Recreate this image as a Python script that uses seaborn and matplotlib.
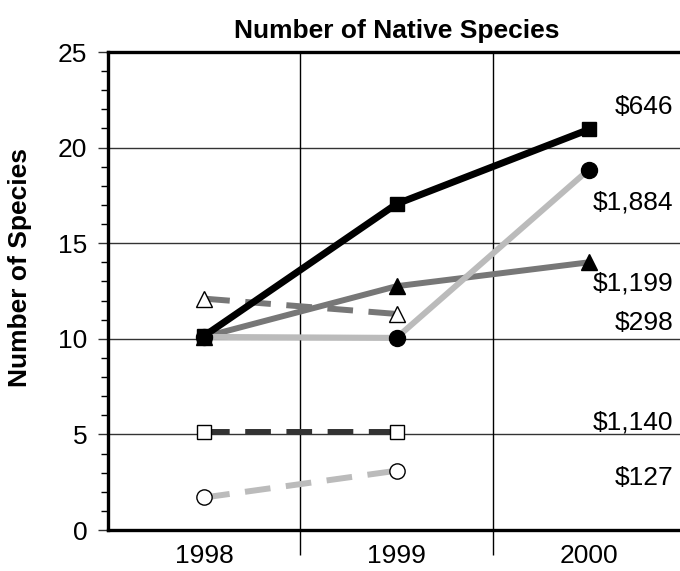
import matplotlib
matplotlib.use("Agg")
import matplotlib.pyplot as plt
from matplotlib.ticker import MultipleLocator, FixedLocator
import seaborn as sns
import pandas as pd

# ---- data ----
years = [1998, 1999, 2000]
years_short = [1998, 1999]
sq_solid = [10.15, 17.05, 20.95]        # $646
circ_solid = [10.1, 10.05, 18.85]       # $1,884
tri_solid = [10.1, 12.75, 14.0]         # $1,199
tri_open = [12.1, 11.3]                 # $298
sq_open = [5.15, 5.15]                  # $1,140
circ_open = [1.7, 3.1]                  # $127
cost_labels = ["$646", "$1,884", "$1,199", "$298", "$1,140", "$127"]
cost_label_y = [22.1, 17.15, 12.9, 10.85, 5.6, 2.7]
yticks = [0, 5, 10, 15, 20, 25]

sns.set_style("white")
plt.rcParams["font.family"] = ["Liberation Sans", "DejaVu Sans"]
plt.rcParams["text.color"] = "black"
plt.rcParams["axes.labelcolor"] = "black"
plt.rcParams["xtick.color"] = "black"
plt.rcParams["ytick.color"] = "black"

fig = plt.figure(figsize=(6.8, 5.71), dpi=100)
ax = fig.add_axes([108 / 680, 1 - 530 / 571, 577 / 680, 478 / 571])

def draw(xs, ys, color, ls, marker, mfc, lw=4.3, ms=11):
    df = pd.DataFrame({"year": xs, "value": ys})
    sns.lineplot(data=df, x="year", y="value", ax=ax, color=color, linewidth=lw,
                 linestyle=ls, marker=marker, markersize=ms, markerfacecolor=mfc,
                 markeredgecolor="black", markeredgewidth=1.0, zorder=3)

dash = (0, (4.3, 2.6))
draw(years_short, circ_open, "#bbbbbb", dash, "o", "white", ms=11)
draw(years_short, sq_open, "#333333", dash, "s", "white", ms=10.5)
draw(years_short, tri_open, "#777777", dash, "^", "white", ms=11)
draw(years, tri_solid, "#777777", "-", "^", "black", ms=11)
draw(years, sq_solid, "#000000", "-", "s", "black", lw=5.0, ms=10.5)
draw(years, circ_solid, "#bbbbbb", "-", "o", "black", ms=11.5)

ax.set_xlim(1997.5, 2000.5)
ax.set_ylim(0, 25)

ax.xaxis.set_major_locator(FixedLocator(years))
ax.xaxis.set_minor_locator(FixedLocator([1998.5, 1999.5]))
ax.set_xticks(years)
ax.set_xticklabels([str(y) for y in years])
ax.yaxis.set_major_locator(FixedLocator(yticks))
ax.yaxis.set_minor_locator(MultipleLocator(1))

ax.tick_params(axis="x", which="major", length=0, pad=10, labelsize=19)
ax.tick_params(axis="x", which="minor", length=18, width=1.0, color="black",
               direction="out", bottom=True)
ax.tick_params(axis="y", which="major", length=7, width=1.0, color="#333333",
               direction="out", pad=8, labelsize=19, left=True)
ax.tick_params(axis="y", which="minor", length=5, width=1.0, color="black",
               direction="out", left=True)

ax.grid(False)
for y in [5, 10, 15, 20]:
    ax.axhline(y, color="#333333", linewidth=1.0, zorder=1)
for x in [1998.5, 1999.5]:
    ax.axvline(x, color="black", linewidth=1.0, zorder=1)

for side in ["left", "top", "bottom"]:
    ax.spines[side].set_linewidth(2.4)
    ax.spines[side].set_color("black")
ax.spines["right"].set_visible(False)

for lab, yv in zip(cost_labels, cost_label_y):
    ax.text(2000.44, yv, lab, ha="right", va="center", fontsize=19, zorder=4)

ax.set_xlabel("")
ax.set_ylabel("Number of Species", fontsize=19, fontweight="bold")
ax.yaxis.set_label_coords(-0.132, 0.55)
ax.set_title("Number of Native Species", fontsize=19, fontweight="bold", pad=10)

fig.savefig("out.png", dpi=100)
